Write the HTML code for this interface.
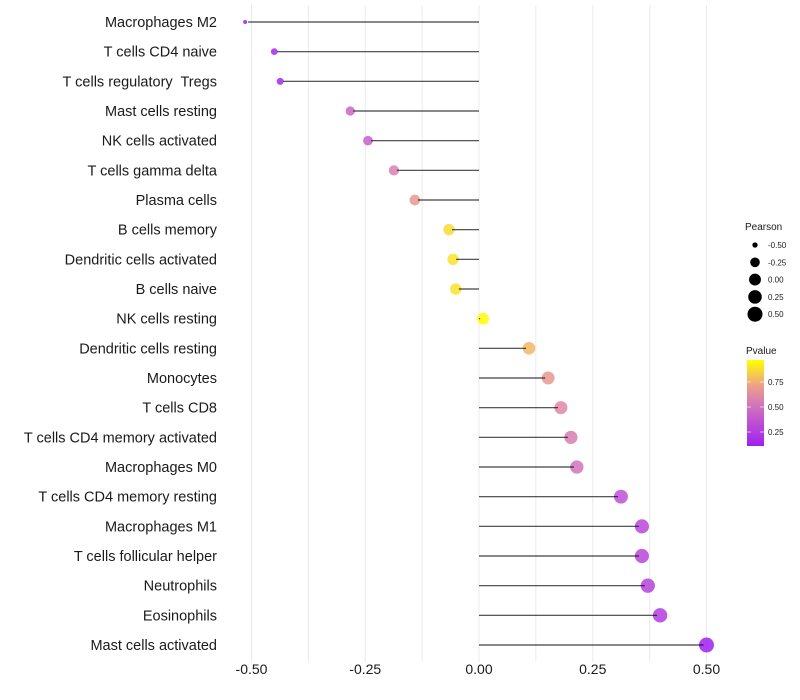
<!DOCTYPE html>
<html><head><meta charset="utf-8"><style>
html,body{margin:0;padding:0;background:#fff;}
svg{display:block;font-family:"Liberation Sans",sans-serif;}
text{white-space:pre;}
</style></head><body>
<svg id="chart" width="800" height="700" viewBox="0 0 800 700" xmlns="http://www.w3.org/2000/svg">
<g id="grid"></g>
<g id="ylabels"></g>
<g id="xlabels"></g>
<g id="points"></g>
<g id="legend">
  <text x="745" y="230" font-size="10" fill="#1a1a1a">Pearson</text>
  <g id="sizeLegend"></g>
  <text x="746" y="354" font-size="10" fill="#1a1a1a">Pvalue</text>
  <defs><linearGradient id="pg" x1="0" y1="1" x2="0" y2="0">
    <stop offset="0" stop-color="#A020F0"/><stop offset="0.45" stop-color="#D070C0"/><stop offset="0.7" stop-color="#ECA088"/><stop offset="1" stop-color="#FFFF00"/>
  </linearGradient></defs>
  <rect x="747" y="360" width="17" height="86" fill="url(#pg)"/>
  <g id="colorTicks"></g>
</g>
</svg>
<script>
const categories=["Macrophages M2","T cells CD4 naive","T cells regulatory  Tregs","Mast cells resting","NK cells activated","T cells gamma delta","Plasma cells","B cells memory","Dendritic cells activated","B cells naive","NK cells resting","Dendritic cells resting","Monocytes","T cells CD8","T cells CD4 memory activated","Macrophages M0","T cells CD4 memory resting","Macrophages M1","T cells follicular helper","Neutrophils","Eosinophils","Mast cells activated"];
const pearson=[-0.514,-0.45,-0.437,-0.283,-0.244,-0.187,-0.141,-0.066,-0.057,-0.051,0.009,0.11,0.152,0.18,0.202,0.215,0.312,0.358,0.358,0.371,0.398,0.50];
const pvalue=[0.1,0.15,0.15,0.45,0.42,0.58,0.7,0.9,0.92,0.92,0.99,0.8,0.7,0.62,0.57,0.52,0.35,0.3,0.3,0.28,0.25,0.1];
const xTicks=[-0.5,-0.25,0,0.25,0.5];
const xTickLabels=["-0.50","-0.25","0.00","0.25","0.50"];
const minorTicks=[-0.375,-0.125,0.125,0.375];
const sizeBreaks=[-0.5,-0.25,0,0.25,0.5];
const sizeLabels=["-0.50","-0.25","0.00","0.25","0.50"];
const colorBreaks=[0.25,0.5,0.75];
const colorLabels=["0.25","0.50","0.75"];

const NS="http://www.w3.org/2000/svg";
function x(v){return 479+v*455;}
function y(i){return 22+i*(623/21);}
function r(v){return 2+5.5*Math.sqrt(Math.max(0,(v+0.514)/1.014));}
function pc(p){return 446-(p-0.11)/0.01;}
const stops=[[0,[160,32,240]],[0.45,[208,112,192]],[0.7,[236,160,136]],[1,[255,255,0]]];
function col(p){const t=Math.max(0,Math.min(1,(p-0.11)/0.89));
 for(let k=0;k<stops.length-1;k++){const a=stops[k],b=stops[k+1];if(t<=b[0]){const f=(t-a[0])/(b[0]-a[0]);
 return "rgb("+a[1].map((c,j)=>Math.round(c+(b[1][j]-c)*f)).join(",")+")";}}
 return "rgb(255,255,0)";}
function mk(tag,attrs,parent){const e=document.createElementNS(NS,tag);for(const k in attrs)e.setAttribute(k,attrs[k]);parent.appendChild(e);return e;}
const grid=document.getElementById('grid');
xTicks.concat(minorTicks).forEach(v=>{const l=mk('line',{x1:x(v),x2:x(v),y1:5,y2:662,stroke:'#ebebeb','stroke-width':1},grid);
 
 });
const xl=document.getElementById('xlabels');
xTicks.forEach((v,i)=>{const t=mk('text',{x:x(v),y:674,'font-size':14,'text-anchor':'middle',fill:'#1a1a1a'},xl);t.textContent=xTickLabels[i];
 
 });
const yl=document.getElementById('ylabels');
categories.forEach((c,i)=>{const t=mk('text',{x:217,y:y(i)+5,'font-size':14.5,'text-anchor':'end',fill:'#1a1a1a'},yl);t.textContent=c;
 
 });
const pts=document.getElementById('points');
categories.forEach((c,i)=>{const v=pearson[i];
 const ci=mk('circle',{cx:x(v),cy:y(i),r:r(v),fill:col(pvalue[i]),'fill-opacity':0.85},pts);
 
 
 const l=mk('line',{x1:x(0),x2:x(v)-(v>0?3:-3),y1:y(i),y2:y(i),stroke:'#000','stroke-opacity':0.75,'stroke-width':1.2},pts);
 
 });
const sl=document.getElementById('sizeLegend');
sizeBreaks.forEach((v,i)=>{const cy=245+i*17.3;
 const c=mk('circle',{cx:755,cy:cy,r:r(v),fill:'#000'},sl);
 
 
 const t=mk('text',{x:768,y:cy+3,'font-size':8,fill:'#1a1a1a'},sl);t.textContent=sizeLabels[i];
 
 });
const ct=document.getElementById('colorTicks');
colorBreaks.forEach((p,i)=>{const yy=pc(p);
 const l=mk('line',{x1:747,x2:751,y1:yy,y2:yy,stroke:'#fff','stroke-width':0.6},ct);
 
 
 const l2=mk('line',{x1:760,x2:764,y1:yy,y2:yy,stroke:'#fff','stroke-width':0.6},ct);
 
 
 const t=mk('text',{x:768,y:yy+3,'font-size':8,fill:'#1a1a1a'},ct);t.textContent=colorLabels[i];
 
 });
</script>
</body></html>
